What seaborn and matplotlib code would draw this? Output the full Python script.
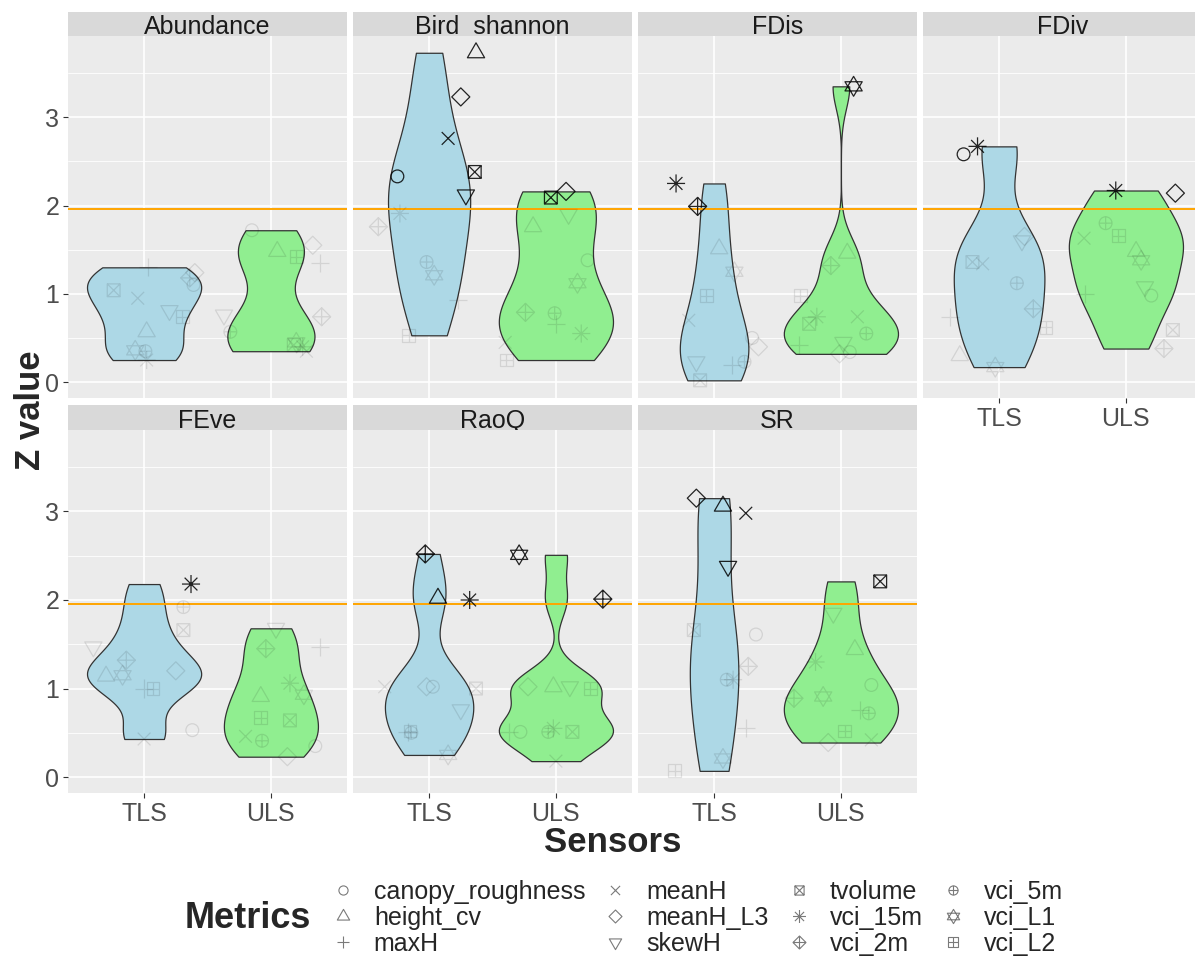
import numpy as np
import pandas as pd
import matplotlib
matplotlib.use("Agg")
import matplotlib.pyplot as plt
from matplotlib.path import Path
from matplotlib.markers import MarkerStyle
from matplotlib.lines import Line2D
from matplotlib.ticker import FixedLocator, MultipleLocator
import seaborn as sns

sns.set_theme(style="darkgrid")
plt.rcParams["font.family"] = ["Liberation Sans", "DejaVu Sans"]

panels = ["Abundance", "Bird_shannon", "FDis", "FDiv", "FEve", "RaoQ", "SR"]
metrics = ["canopy_roughness", "height_cv", "maxH", "meanH", "meanH_L3", "skewH",
           "tvolume", "vci_15m", "vci_2m", "vci_5m", "vci_L1", "vci_L2"]
sensors = ["TLS", "ULS"]
z_crit = 1.96
y_ticks = [0, 1, 2, 3]

# Z values, one per metric (same order as `metrics`), and horizontal jitter offsets
abundance_tls = [1.10, 0.57, 1.30, 0.95, 1.24, 0.81, 1.04, 0.25, 1.18, 0.35, 0.36, 0.74]
abundance_tls_dx = [0.39, 0.02, 0.03, -0.05, 0.40, 0.20, -0.24, 0.02, 0.36, 0.01, -0.07, 0.30]
abundance_uls = [1.72, 1.48, 1.35, 0.35, 1.55, 0.76, 0.42, 0.40, 0.74, 0.57, 0.45, 1.42]
abundance_uls_dx = [-0.15, 0.05, 0.39, 0.28, 0.33, -0.37, 0.18, 0.25, 0.40, -0.32, 0.20, 0.20]

bird_tls = [2.33, 3.73, 0.93, 2.76, 3.23, 2.12, 2.38, 1.91, 1.76, 1.36, 1.21, 0.53]
bird_tls_dx = [-0.25, 0.37, 0.23, 0.15, 0.25, 0.29, 0.36, -0.23, -0.40, -0.02, 0.04, -0.16]
bird_uls = [1.38, 1.76, 0.66, 0.45, 2.16, 1.90, 2.09, 0.55, 0.79, 0.78, 1.12, 0.25]
bird_uls_dx = [0.25, -0.18, 0.00, -0.40, 0.08, 0.10, -0.04, 0.20, -0.24, -0.01, 0.17, -0.39]

fdis_tls = [0.50, 1.51, 0.19, 0.70, 0.40, 0.23, 0.02, 2.25, 1.99, 0.23, 1.25, 0.98]
fdis_tls_dx = [0.30, 0.04, 0.14, -0.20, 0.35, -0.14, -0.11, -0.30, -0.13, 0.24, 0.16, -0.06]
fdis_uls = [0.34, 1.46, 0.42, 0.74, 0.32, 0.45, 0.66, 0.74, 1.32, 0.55, 3.35, 0.98]
fdis_uls_dx = [0.07, 0.05, -0.33, 0.13, -0.01, 0.02, -0.25, -0.19, -0.08, 0.20, 0.10, -0.32]

fdiv_tls = [2.58, 0.30, 0.74, 1.34, 1.65, 1.60, 1.36, 2.67, 0.83, 1.12, 0.17, 0.62]
fdiv_tls_dx = [-0.28, -0.31, -0.39, -0.13, 0.20, 0.18, -0.21, -0.17, 0.27, 0.14, -0.03, 0.37]
fdiv_uls = [0.98, 1.48, 1.00, 1.63, 2.14, 1.08, 0.59, 2.17, 0.38, 1.80, 1.38, 1.66]
fdiv_uls_dx = [0.20, 0.08, -0.32, -0.33, 0.39, 0.15, 0.37, -0.08, 0.30, -0.16, 0.12, -0.06]

feve_tls = [0.53, 1.14, 1.00, 0.43, 1.20, 1.47, 1.66, 2.18, 1.32, 1.92, 1.15, 1.00]
feve_tls_dx = [0.38, -0.30, 0.00, 0.00, 0.25, -0.40, 0.31, 0.37, -0.14, 0.31, -0.17, 0.07]
feve_uls = [0.35, 0.91, 1.47, 0.46, 0.23, 1.68, 0.64, 1.06, 1.45, 0.41, 0.93, 0.67]
feve_uls_dx = [0.35, -0.08, 0.39, -0.20, 0.13, 0.04, 0.15, 0.15, -0.04, -0.07, 0.26, -0.08]

raoq_tls = [1.02, 2.02, 0.51, 1.02, 1.02, 0.76, 1.00, 2.00, 2.52, 0.50, 0.25, 0.52]
raoq_tls_dx = [0.03, 0.07, -0.17, -0.35, -0.02, 0.25, 0.37, 0.32, -0.03, -0.14, 0.15, -0.15]
raoq_uls = [0.51, 1.02, 0.51, 0.18, 1.02, 1.02, 0.51, 0.55, 2.01, 0.51, 2.51, 1.00]
raoq_uls_dx = [-0.28, -0.02, -0.37, 0.00, -0.22, 0.11, 0.13, -0.02, 0.37, -0.06, -0.29, 0.27]

sr_tls = [1.61, 3.06, 0.55, 2.98, 3.15, 2.38, 1.66, 1.10, 1.25, 1.10, 0.21, 0.07]
sr_tls_dx = [0.33, 0.07, 0.25, 0.25, -0.14, 0.11, -0.16, 0.15, 0.27, 0.10, 0.07, -0.31]
sr_uls = [1.04, 1.44, 0.76, 0.42, 0.39, 1.85, 2.21, 1.30, 0.89, 0.72, 0.91, 0.52]
sr_uls_dx = [0.24, 0.11, 0.15, 0.24, -0.10, -0.06, 0.31, -0.20, -0.37, 0.22, -0.14, 0.03]

panel_series = {
    "Abundance": (abundance_tls, abundance_tls_dx, abundance_uls, abundance_uls_dx),
    "Bird_shannon": (bird_tls, bird_tls_dx, bird_uls, bird_uls_dx),
    "FDis": (fdis_tls, fdis_tls_dx, fdis_uls, fdis_uls_dx),
    "FDiv": (fdiv_tls, fdiv_tls_dx, fdiv_uls, fdiv_uls_dx),
    "FEve": (feve_tls, feve_tls_dx, feve_uls, feve_uls_dx),
    "RaoQ": (raoq_tls, raoq_tls_dx, raoq_uls, raoq_uls_dx),
    "SR": (sr_tls, sr_tls_dx, sr_uls, sr_uls_dx),
}

records = []
for p in panels:
    tls, tdx, uls, udx = panel_series[p]
    for s, vals, dxs in (("TLS", tls, tdx), ("ULS", uls, udx)):
        for m, v, d in zip(metrics, vals, dxs):
            records.append(dict(panel=p, sensor=s, metric=m, z=v, dx=d))
df = pd.DataFrame(records)
df["xpos"] = df["sensor"].map({s: i for i, s in enumerate(sensors)}) + df["dx"]


# ---- R-style point shapes (units of the symbol radius) ----
def segs(*pairs):
    verts, codes = [], []
    for a, b in pairs:
        verts += [a, b]
        codes += [Path.MOVETO, Path.LINETO]
    return Path(verts, codes)


def poly(pts):
    verts = list(pts) + [pts[0]]
    codes = [Path.MOVETO] + [Path.LINETO] * (len(pts) - 1) + [Path.CLOSEPOLY]
    return Path(verts, codes)


r2 = np.sqrt(2)
circ = Path.unit_circle()
sq = poly([(-1, -1), (1, -1), (1, 1), (-1, 1)])
tri_up = poly([(0, 1.555), (-1.347, -0.778), (1.347, -0.778)])
tri_dn = poly([(0, -1.555), (-1.347, 0.778), (1.347, 0.778)])
plus_l = segs(((-r2, 0), (r2, 0)), ((0, -r2), (0, r2)))
plus_s = segs(((-1, 0), (1, 0)), ((0, -1), (0, 1)))
cross = segs(((-1, -1), (1, 1)), ((-1, 1), (1, -1)))
diam = poly([(0, -r2), (r2, 0), (0, r2), (-r2, 0)])
yc6 = 0.5 * (0.778 + 1.555)
star_a = poly([(0, -1.555), (1.347, yc6 - 0.45), (-1.347, yc6 - 0.45)])
star_b = poly([(0, 1.555), (1.347, -yc6 + 0.45), (-1.347, -yc6 + 0.45)])

shape_paths = {
    "canopy_roughness": circ,
    "height_cv": tri_up,
    "maxH": plus_l,
    "meanH": cross,
    "meanH_L3": diam,
    "skewH": tri_dn,
    "tvolume": Path.make_compound_path(sq, cross),
    "vci_15m": Path.make_compound_path(cross, plus_l),
    "vci_2m": Path.make_compound_path(diam, plus_l),
    "vci_5m": Path.make_compound_path(circ, plus_s),
    "vci_L1": Path.make_compound_path(star_a, star_b),
    "vci_L2": Path.make_compound_path(sq, plus_s),
}
marker_styles = {m: MarkerStyle(pth) for m, pth in shape_paths.items()}
extent = {m: np.abs(pth.vertices).max() for m, pth in shape_paths.items()}

R_PT = 4.6
LEG_R_PT = 3.3
point_size = {m: (2 * extent[m] * R_PT) ** 2 for m in metrics}
legend_ms = {m: 2 * extent[m] * LEG_R_PT for m in metrics}


def nrd0_factor(kde):
    d = np.asarray(kde.dataset).ravel()
    sd = d.std(ddof=1)
    q75, q25 = np.percentile(d, [75, 25])
    lo = min(sd, (q75 - q25) / 1.34)
    if lo <= 0:
        lo = sd
    return 0.9 * lo * len(d) ** -0.2 / sd


# ---- figure layout (pixels) ----
W, H = 1195, 961
fig = plt.figure(figsize=(W / 100, H / 100), dpi=100)
fig.patch.set_facecolor("white")


def add_axes_px(x0, y0, x1, y1):
    return fig.add_axes([x0 / W, 1 - y1 / H, (x1 - x0) / W, (y1 - y0) / H])


col_left = [68, 353, 638, 923]
pw = 279
row_geom = [(36, 398, 12), (430, 793, 405)]  # plot top, plot bottom, strip top

fills = {"TLS": "#ADD8E6", "ULS": "#90EE90"}
dark = (0, 0, 0, 0.85)
faint = (0, 0, 0, 0.10)

for i, p in enumerate(panels):
    r, c = divmod(i, 4)
    top, bot, stop = row_geom[r]
    x0 = col_left[c]
    ax = add_axes_px(x0, top, x0 + pw, bot)
    sub = df[df["panel"] == p]

    sns.violinplot(data=sub, x="sensor", y="z", hue="sensor", order=sensors,
                   hue_order=sensors, palette=fills, saturation=1, cut=0,
                   inner=None, density_norm="area", common_norm=True,
                   bw_method=nrd0_factor, width=0.9, linewidth=0.9,
                   linecolor="#333333", legend=False, ax=ax)

    ax.axhline(z_crit, color="#FFA500", lw=1.4, zorder=3)

    for m in metrics:
        pts = sub[sub["metric"] == m]
        cols = [dark if z > z_crit else faint for z in pts["z"]]
        ax.scatter(pts["xpos"], pts["z"], marker=marker_styles[m], s=point_size[m],
                   facecolors="none", edgecolors=cols, linewidths=0.9, zorder=4)

    ax.set_xlim(-0.6, 1.6)
    ax.set_ylim(-0.18, 3.92)
    ax.set_facecolor("#EBEBEB")
    for sp in ax.spines.values():
        sp.set_visible(False)
    ax.yaxis.set_major_locator(FixedLocator(y_ticks))
    ax.yaxis.set_minor_locator(MultipleLocator(0.5))
    ax.set_axisbelow(True)
    ax.grid(False)
    ax.yaxis.grid(True, which="major", color="white", lw=1.2)
    ax.yaxis.grid(True, which="minor", color="white", lw=0.6)
    ax.xaxis.grid(True, which="major", color="white", lw=1.2)
    ax.set_xlabel("")
    ax.set_ylabel("")

    show_x = (r == 1) or (i == 3)
    show_y = (c == 0)
    ax.tick_params(axis="x", which="major", bottom=show_x, labelbottom=show_x,
                   length=3.8, width=0.8, color="#333333", labelsize=18,
                   labelcolor="#4D4D4D", pad=2.5)
    ax.tick_params(axis="y", which="major", left=show_y, labelleft=show_y,
                   length=3.8, width=0.8, color="#333333", labelsize=18,
                   labelcolor="#4D4D4D", pad=2.5)
    ax.tick_params(which="minor", left=False, bottom=False)

    sax = add_axes_px(x0, stop, x0 + pw, top)
    sax.set_facecolor("#D9D9D9")
    sax.set_xticks([])
    sax.set_yticks([])
    sax.grid(False)
    for sp in sax.spines.values():
        sp.set_visible(False)
    sax.text(0.5, 0.07, p, ha="center", va="baseline", fontsize=18,
             color="#1A1A1A", transform=sax.transAxes, clip_on=True)

fig.text(30 / W, 1 - 410 / H, "Z value", rotation=90, fontsize=25,
         fontweight="bold", ha="center", va="center")
fig.text(613 / W, 1 - 842 / H, "Sensors", fontsize=25, fontweight="bold",
         ha="center", va="center")
fig.text(185 / W, 1 - 918 / H, "Metrics", fontsize=26, fontweight="bold",
         ha="left", va="center")

handles = [Line2D([], [], marker=marker_styles[m], linestyle="None",
                  markersize=legend_ms[m], markerfacecolor="none",
                  markeredgecolor="#7A7A7A", markeredgewidth=0.8) for m in metrics]
fig.legend(handles, metrics, ncol=4, loc="center left",
           bbox_to_anchor=(330 / W, 1 - 918 / H), frameon=False, fontsize=18,
           handlelength=1.0, handletextpad=0.75, columnspacing=0.7,
           labelspacing=0.08, borderpad=0, borderaxespad=0)

fig.savefig("out.png", dpi=100)
